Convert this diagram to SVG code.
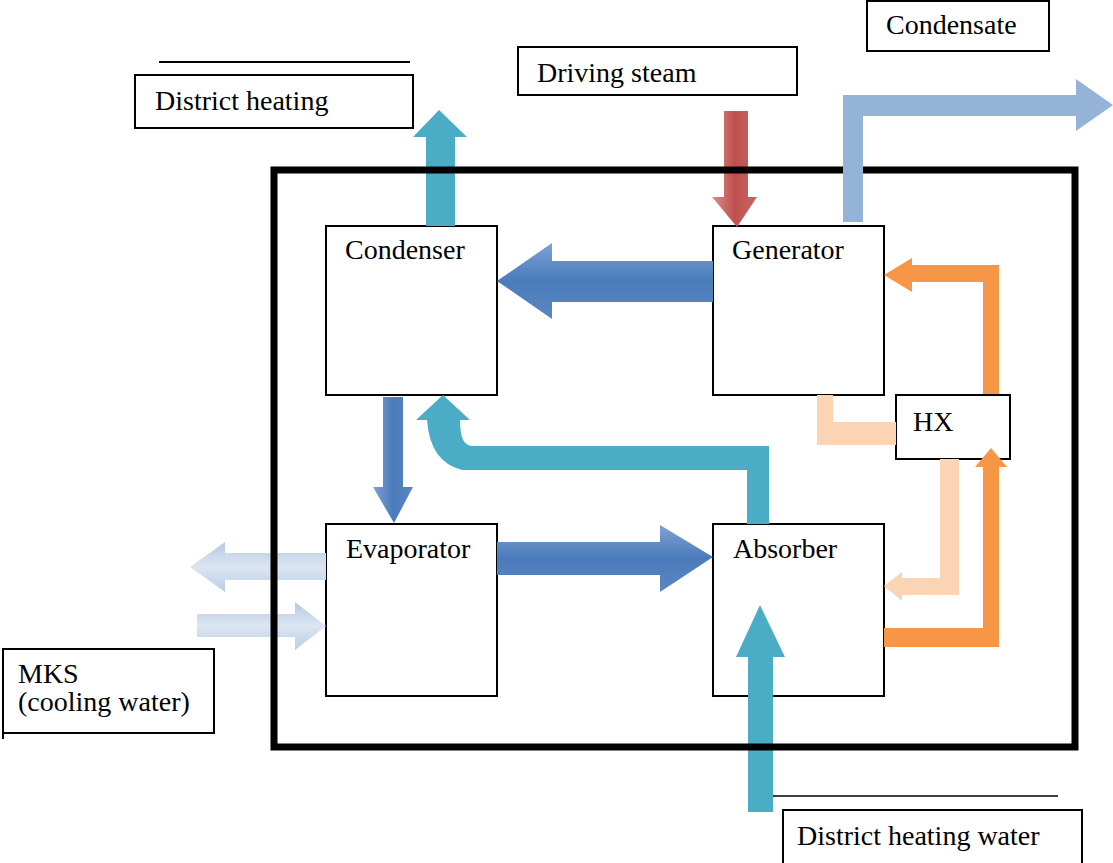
<svg xmlns="http://www.w3.org/2000/svg" width="1113" height="863" viewBox="0 0 1113 863">
<style>
.box{fill:#fff;stroke:#000;stroke-width:2}
.lbl{fill:#fff;stroke:#000;stroke-width:2}
.t{font-size:28px;fill:#000}
.teal{fill:#4bacc6}
.org{fill:#f79646}
.lorg{fill:#fbd4b4}
.cond{fill:#95b3d7}
</style>
<defs>
<linearGradient id="bh" x1="0" y1="0" x2="0" y2="1">
<stop offset="0" stop-color="#7fa1d2"/><stop offset="0.5" stop-color="#4a7bbb"/><stop offset="1" stop-color="#5b87c2"/>
</linearGradient>
<linearGradient id="bv" x1="0" y1="0" x2="1" y2="0">
<stop offset="0" stop-color="#7fa1d2"/><stop offset="0.5" stop-color="#4a7bbb"/><stop offset="1" stop-color="#5b87c2"/>
</linearGradient>
<linearGradient id="rv" x1="0" y1="0" x2="1" y2="0">
<stop offset="0" stop-color="#d98f8d"/><stop offset="0.5" stop-color="#c0504d"/><stop offset="1" stop-color="#c86664"/>
</linearGradient>
<linearGradient id="lb" x1="0" y1="0" x2="0" y2="1">
<stop offset="0" stop-color="#b4c9e5"/><stop offset="0.5" stop-color="#dce6f2"/><stop offset="1" stop-color="#b9cde6"/>
</linearGradient>
</defs>
<g font-family="'Liberation Serif', 'Times New Roman', 'DejaVu Serif', serif">
<g id="condenser"><rect class="box" x="326" y="226" width="171" height="169"/><text class="t" x="345" y="259">Condenser</text></g>
<g id="generator"><rect class="box" x="713" y="226" width="171" height="169"/><text class="t" x="732" y="259">Generator</text></g>
<g id="evaporator"><rect class="box" x="326" y="524" width="171" height="172"/><text class="t" x="346" y="558">Evaporator</text></g>
<g id="absorber"><rect class="box" x="713" y="524" width="171" height="172"/><text class="t" x="733" y="558">Absorber</text></g>
<g id="hx"><rect class="box" x="896" y="395" width="114" height="64"/><text class="t" x="913" y="431">HX</text></g>
<g id="district-heating"><line x1="159" y1="62" x2="410" y2="62" stroke="#000" stroke-width="2"/><rect class="lbl" x="135" y="75" width="278" height="53"/><text class="t" x="155" y="110">District heating</text></g>
<g id="driving-steam"><rect class="lbl" x="518" y="47" width="279" height="48"/><text class="t" x="537" y="82">Driving steam</text></g>
<g id="condensate"><rect class="lbl" x="867" y="1" width="182" height="50"/><text class="t" x="886" y="34">Condensate</text></g>
<g id="mks"><rect class="lbl" x="3" y="649" width="211" height="84"/><line x1="3" y1="733" x2="3" y2="739" stroke="#000" stroke-width="2"/><text class="t" x="18" y="683">MKS</text><text class="t" x="18" y="711">(cooling water)</text></g>
<g id="district-heating-water"><line x1="773" y1="796" x2="1058" y2="796" stroke="#000" stroke-width="1.5"/><rect class="lbl" x="783" y="810" width="299" height="70"/><text class="t" x="797" y="845">District heating water</text></g>
</g>
<g id="connectors">
<polygon class="teal" points="426,226 426,137 413,137 439,110 467,137 455,137 455,226"/>
<polygon fill="url(#rv)" points="724,111 748,111 748,197 757,197 737,227 712,197 724,197"/>
<polygon fill="url(#bh)" points="713,261 552,261 552,243 497,281 552,319 552,302 713,302"/>
<polygon fill="url(#bv)" points="383,397 403,397 403,487 413,487 394,523 373,487 383,487"/>
<polygon fill="url(#bh)" points="497,542 660,542 660,525 713,557 660,592 660,575 497,575"/>
<path class="teal" d="M747,524 L747,470 L462,470 Q430,462 427,420 L416,420 L443,395 L470,420 L460,420 Q460,446 472,446 L769,446 L769,524 Z"/>
<polygon class="teal" points="748,812 748,657 736,657 760,605 785,657 773,657 773,812"/>
<polygon fill="url(#lb)" points="326,553 225,553 225,542 190,567 225,592 225,580 326,580"/>
<polygon fill="url(#lb)" points="197,614 295,614 295,602 326,626 295,650 295,637 197,637"/>
<polygon class="org" points="983,394 983,282 912,282 912,292 884,275 912,258 912,265 999,265 999,394"/>
<polygon class="org" points="884,628 983,628 983,467 975,467 991,448 1007,467 999,467 999,647 884,647"/>
<polygon class="lorg" points="817,395 833,395 833,422 896,422 896,445 817,445"/>
<polygon class="lorg" points="940,459 959,459 959,595 902,595 902,601 884,586 902,572 902,578 940,578"/>
</g>
<rect id="frame" x="274" y="170" width="801" height="577" fill="none" stroke="#000" stroke-width="7"/>
<g id="condensate-flow">
<polygon class="cond" points="843,222 843,95 1076,95 1076,79 1113,105 1076,131 1076,116 863,116 863,222"/>
</g>
</svg>
